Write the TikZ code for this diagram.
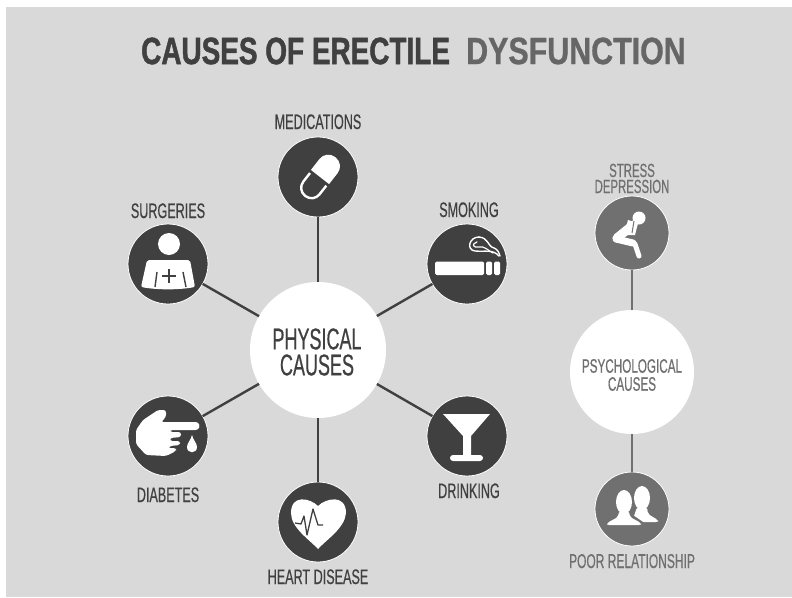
\documentclass[tikz,border=0pt]{standalone}
\usepackage{fontspec}
\usepackage{xcolor}
\usepackage{tikz}
\usetikzlibrary{positioning}
\newfontfamily\condfont[FakeStretch=0.6,FakeBold=0.5]{Liberation Sans}
\newfontfamily\titlefont[FakeStretch=0.735,FakeBold=1.2]{Liberation Sans Bold}
\newfontfamily\dysfont[FakeStretch=0.8,FakeBold=0.8]{Liberation Sans Bold}
\definecolor{bggray}{gray}{0.85}
\definecolor{darkgray}{gray}{0.25}
\definecolor{midgray}{gray}{0.40}
\definecolor{softgray}{gray}{0.44}

\begin{document}
\begin{tikzpicture}[
        x=1pt, y=-1pt,
        bubble/.style    ={circle, draw=white, line width=0.8pt, fill=darkgray,
                           minimum size=80pt, inner sep=0pt, outer sep=0pt},
        softbubble/.style={bubble, fill=softgray, minimum size=74pt},
        hub/.style       ={circle, fill=white, inner sep=0pt, outer sep=0pt},
        lbl/.style       ={font=\condfont\fontsize{21}{21}\selectfont, text=darkgray,
                           inner sep=0pt, outer sep=0pt, text height=15pt, text depth=0pt},
        softlbl/.style   ={lbl, text=softgray, font=\condfont\fontsize{20}{20}\selectfont},
        hubtext/.style   ={font=\condfont\fontsize{30}{26}\selectfont, text=darkgray,
                           align=center, inner sep=0pt},
        softhubtext/.style={font=\condfont\fontsize{19.5}{18}\selectfont, text=softgray,
                           align=center, inner sep=0pt},
        arr/.style       ={line width=2.4pt, draw=darkgray},
        softarr/.style   ={line width=2.2pt, draw=softgray},
        icon/.style      ={fill=white, draw=none},
        iconline/.style  ={draw=white, line cap=round, line join=round}
    ]
      \useasboundingbox (0,0) rectangle (792,597);
      \fill[bggray] (6,7) rectangle (792,597);

      % ===== TITLE =====
      \node[font=\titlefont\fontsize{38}{38}\selectfont, text=darkgray,
            inner sep=0pt, anchor=west] (title) at (141,51) {CAUSES OF ERECTILE};
      \node[font=\dysfont\fontsize{38}{38}\selectfont, text=midgray,
            inner sep=0pt, anchor=west] (dys) at (466,51) {DYSFUNCTION};

      % ===== PHYSICAL =====
      \node[hub, minimum size=136pt] (phys) at (318,350) {};
      \node[hubtext] (physt) at (317,352) {PHYSICAL\\CAUSES};
      \node[bubble] (med)   at (318,177) {};
      \node[bubble] (surg)  at (168,264) {};
      \node[bubble] (smoke) at (467,264) {};
      \node[bubble] (diab)  at (168,436) {};
      \node[bubble] (heart) at (318,522) {};
      \node[bubble] (drink) at (467,436) {};
      \draw[arr] (phys) -- (med);
      \draw[arr] (phys) -- (surg);
      \draw[arr] (phys) -- (smoke);
      \draw[arr] (phys) -- (diab);
      \draw[arr] (phys) -- (heart);
      \draw[arr] (phys) -- (drink);
      \node[lbl, above=8pt of med]   (medl)   {MEDICATIONS};
      \node[lbl, above=6pt of surg]  (surgl)  {SURGERIES};
      \node[lbl, above=7pt of smoke, xshift=2pt] (smokel) {SMOKING};
      \node[lbl, below=11pt of diab] (diabl)  {DIABETES};
      \node[lbl, below=7pt of heart] (heartl) {HEART DISEASE};
      \node[lbl, below=7pt of drink, xshift=2pt] (drinkl) {DRINKING};

      % ===== PSYCHOLOGICAL =====
      \node[hub, minimum size=124pt] (psych) at (632,372) {};
      \node[softhubtext] (psycht) at (632,375) {PSYCHOLOGICAL\\CAUSES};
      \node[softbubble] (stress) at (632,233) {};
      \node[softbubble] (poor)   at (632,509) {};
      \draw[softarr] (psych) -- (stress);
      \draw[softarr] (psych) -- (poor);
      \node[softlbl, align=center, font=\condfont\fontsize{19}{16}\selectfont,
            text height=, above=3pt of stress] (stressl) {STRESS\\DEPRESSION};
      \node[softlbl, below=7pt of poor] (poorl) {POOR RELATIONSHIP};

      % ===== ICONS =====
      % pill
      \begin{scope}[shift={(med)}, xshift=2pt, rotate=-38]
        \fill[icon, rounded corners=11pt] (-11.5,0) -- (-11.5,-25) -- (11.5,-25)
          [sharp corners] -- (11.5,0) -- cycle;
        \draw[iconline, line width=2.4pt, rounded corners=10pt, line cap=butt]
          (-10.3,3) -- (-10.3,24) -- (10.3,24) [sharp corners] -- (10.3,3);
      \end{scope}
      % nurse
      \begin{scope}[shift={(surg)}]
        \fill[icon] (1,-20) circle[radius=11];
        \fill[icon, rounded corners=2pt] (-21,-4) -- (22,-4) -- (27,23)
          .. controls (10,26) and (-10,26) .. (-27,23) -- cycle;
        \draw[darkgray, line width=1.4pt] (-11,8) -- (-13,23) (15,8) -- (18,23);
        \draw[darkgray, line width=2.4pt] (1,5) -- (1,19) (-6,12) -- (8,12);
      \end{scope}
      % cigarette
      \begin{scope}[shift={(smoke)}]
        \fill[icon, rounded corners=1.5pt] (-32,-2.5) rectangle (17,11);
        \fill[icon, rounded corners=1.5pt] (19,-2.5) rectangle (25,11);
        \fill[icon, rounded corners=1.5pt] (27,-2.5) rectangle (33,11);
        \draw[iconline, line width=1.4pt] (12,-27) .. controls (2,-27) and (-1,-14) .. (8,-13)
          .. controls (18,-12) and (26,-15) .. (32,-8);
        \draw[iconline, line width=1.4pt] (12,-27) .. controls (22,-26) and (20,-18) .. (27,-16)
          .. controls (30,-15) and (32,-12) .. (33,-8);
        \draw[iconline, line width=1.2pt] (10,-22) .. controls (4,-20) and (6,-16) .. (12,-17)
          .. controls (18,-18) and (20,-14) .. (26,-11);
      \end{scope}
      % hand and drop
      \begin{scope}[shift={(diab)}]
        \fill[icon, rounded corners=2.5pt] (-32,-6) -- (-25,-16) -- (-10,-26) -- (-2,-26)
          -- (-2,-19) -- (-7,-14) -- (30,-14) -- (32,-10) -- (30,-6) -- (2,-6) -- (2,-4)
          -- (13,-4) -- (13,1) -- (2,2) -- (2,5) -- (12,5) -- (12,9) -- (2,10) -- (0,12)
          -- (8,12) -- (8,15) -- (-2,20) -- (-22,19) -- (-32,8) -- cycle;
        \fill[icon] (24,-1) .. controls (25,4) and (29,7) .. (29,11)
          .. controls (29,18) and (19,18) .. (19,11) .. controls (19,7) and (23,4) .. (24,-1) -- cycle;
      \end{scope}
      % heart
      \begin{scope}[shift={(heart)}]
        \fill[icon] (0,-16) .. controls (-8,-24) and (-27,-28) .. (-27,-9)
          .. controls (-27,6) and (-8,18) .. (0,27) .. controls (8,18) and (27,6) .. (28,-9)
          .. controls (28,-28) and (8,-24) .. (0,-16) -- cycle;
        \draw[darkgray, line width=1.3pt, line join=round] (-23,1) -- (-17,2) -- (-14,-6)
          -- (-11,13) -- (-5,-13) -- (0,3) -- (5,3);
      \end{scope}
      % glass
      \begin{scope}[shift={(drink)}]
        \fill[icon] (-24,-22) -- (23,-22) -- (4,0) -- (4,20) -- (-4,20) -- (-4,0) -- cycle;
        \fill[icon, rounded corners=3pt] (-17,19) rectangle (16,25);
      \end{scope}
      % sitting figure
      \begin{scope}[shift={(stress)}]
        \fill[icon] (7,-15) circle[radius=6.5];
        \draw[iconline, line width=9pt] (1,-8) -- (-15,5);
        \draw[iconline, line width=7pt] (-16,6) -- (1,10);
        \draw[iconline, line width=5pt] (3,11) -- (7,23);
        \fill[icon] (-4,-13) -- (6,-10) -- (3,2) -- (-8,2) -- cycle;
        \draw[softgray, line width=1pt] (2,-12) -- (0,0);
      \end{scope}
      % two people
      \begin{scope}[shift={(poor)}]
        \fill[icon] (10,-11) ellipse[x radius=8, y radius=12];
        \fill[icon, rounded corners=2pt] (5,-2) -- (15,-2) -- (16,5) -- (26,11) -- (26,13) -- (0,13) -- cycle;
        \fill[softgray] (-8,-7) ellipse[x radius=10, y radius=14];
        \fill[softgray] (-29,18) -- (-27,13) -- (-14,4) -- (-2,4) -- (11,13) -- (13,18) -- cycle;
        \fill[icon] (-8,-7) ellipse[x radius=8, y radius=12];
        \fill[icon, rounded corners=2pt] (-13,2) -- (-3,2) -- (-2,8) -- (9,14) -- (9,16) -- (-25,16)
          -- (-25,14) -- (-14,8) -- cycle;
      \end{scope}
    \end{tikzpicture}
\end{document}
